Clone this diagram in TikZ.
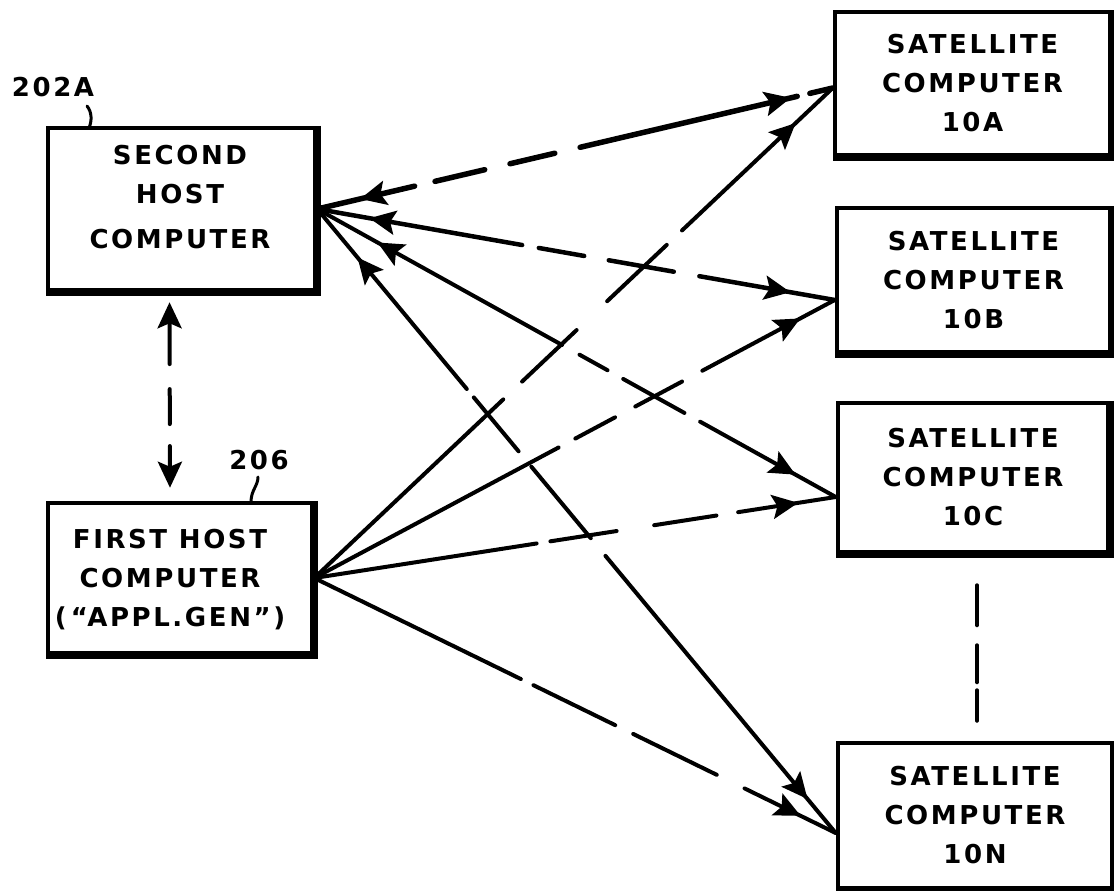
\documentclass[tikz,border=0pt]{standalone}
\usepackage{fontspec}
\setmainfont{DejaVu Sans}[LetterSpace=10]
\usetikzlibrary{arrows.meta,decorations.markings,calc}
\newcommand{\lettering}{\fontsize{26}{39}\selectfont\bfseries}
\tikzset{
  barb/.tip={Stealth[length=26pt,width=24pt,inset=5pt]},
  box/.style={draw, line width=4.5pt, inner sep=0pt, align=center, font=\lettering},
  txt/.style={inner sep=0pt, align=center, font=\lettering},
  conn/.style={line width=4pt, line cap=round},
  leader/.style={line width=3pt, line cap=round},
  tofwd/.style={postaction={decorate,decoration={markings,mark=at position -#1 with {\arrow{barb}}}}},
  toback/.style={postaction={decorate,decoration={markings,mark=at position #1 with {\arrowreversed{barb}}}}},
}
\begin{document}
\begin{tikzpicture}[x=1pt,y=-1pt]
\useasboundingbox (0,0) rectangle (1114,891);
\fill[white] (0,0) rectangle (1114,891);

% boxes
\node[box, minimum width=267pt, minimum height=162pt] (SH) at (181.5,209) {};
\node[txt] (SHt) at (180,197) {SECOND\\HOST\\[6pt]COMPUTER};
\node[box, minimum width=264pt, minimum height=150pt] (FH) at (180,578) {};
\node[txt] (FHt) at (170,580) {FIRST HOST\\COMPUTER\\(\,“APPL.GEN”)};
\node[box, minimum width=275pt, minimum height=143pt] (A) at (972.5,83.5) {SATELLITE\\COMPUTER\\10A};
\node[box, minimum width=273pt, minimum height=144pt] (B) at (973.5,280) {SATELLITE\\COMPUTER\\10B};
\node[box, minimum width=270pt, minimum height=149pt] (C) at (973,477.5) {SATELLITE\\COMPUTER\\10C};
\node[box, minimum width=274pt, minimum height=145pt] (N) at (975,815.5) {SATELLITE\\COMPUTER\\10N};
\foreach \n in {SH,FH,A,B,C,N}
  \draw[line width=7.5pt] (\n.north east) -- (\n.south east) -- (\n.south west);

% labels
\node[txt] (L202) at (53,87) {202A};
\node[txt] (L206) at (259,460) {206};
\coordinate (k1) at (87,106);
\coordinate (k2) at (89,128);
\draw[leader] (k1) .. controls (92,112) and (92,121) .. (k2);
\coordinate (k3) at (258,477);
\coordinate (k4) at (251,502);
\draw[leader] (k3) .. controls (258,486) and (251,490) .. (k4);

% attachment points
\coordinate (sh) at (SH.east);
\coordinate (fh) at (FH.east);
\coordinate (pa) at ([yshift=-4.5pt]A.west);
\coordinate (pb) at ([yshift=-20pt]B.west);
\coordinate (pc) at ([yshift=-19.5pt]C.west);
\coordinate (pn) at ([yshift=-17.5pt]N.west);

% second host links
\draw[conn, line width=5.5pt, dash pattern=on 100pt off 21pt on 51pt off 26pt on 46pt off 26pt on 223pt off 13pt on 80pt, toback=44pt, tofwd=43pt] (sh) -- (pa);
\draw[conn, line width=4.5pt, dash pattern=on 208pt off 17pt on 46pt off 25pt on 66pt off 26pt on 200pt, toback=53pt, tofwd=45pt] (sh) -- (pb);
\draw[conn, dash pattern=on 280pt off 20pt on 32pt off 18pt on 70pt off 18pt on 250pt, toback=69pt, tofwd=46pt] (sh) -- (pc);
\draw[conn, dash pattern=on 234pt off 11pt on 70pt off 20pt on 93pt off 23pt on 450pt, toback=63pt, tofwd=44pt] (sh) -- (pn);

% first host links
\draw[conn, dash pattern=on 260pt off 26pt on 75pt off 42pt on 82pt off 21pt on 300pt, tofwd=51pt] (fh) -- (pa);
\draw[conn, dash pattern=on 277pt off 19pt on 45pt off 23pt on 53pt off 23pt on 220pt, tofwd=39pt] (fh) -- (pb);
\draw[conn, dash pattern=on 225pt off 14pt on 67pt off 38pt on 63pt off 22pt on 180pt, tofwd=38pt] (fh) -- (pc);
\draw[conn, dash pattern=on 230pt off 14pt on 91pt off 20pt on 93pt off 31pt on 180pt, tofwd=39pt] (fh) -- (pn);

% host to host
\draw[conn, barb-barb, dash pattern=on 42pt off 25pt on 35pt off 22pt on 120pt, shorten <=10pt, shorten >=13pt]
  ([xshift=-12pt]SH.south) -- ([xshift=-10pt]FH.north);

% ellipsis between satellites
\draw[conn, dash pattern=on 40pt off 20pt on 37pt off 8pt on 60pt, shorten <=31pt, shorten >=20pt]
  ([xshift=4pt]C.south) -- ([xshift=2pt]N.north);
\end{tikzpicture}
\end{document}
